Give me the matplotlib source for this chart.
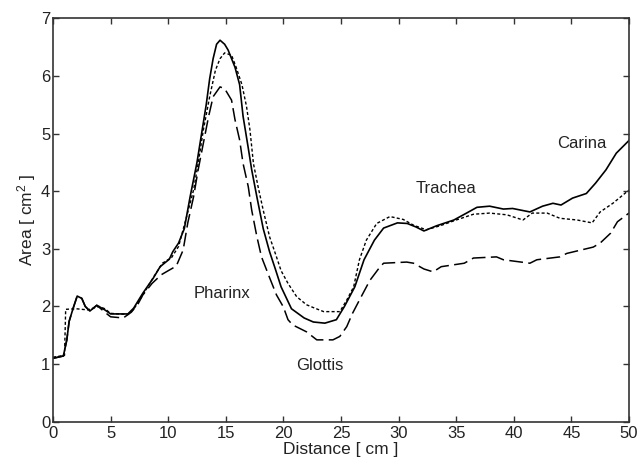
import matplotlib

matplotlib.use("Agg")
import matplotlib.pyplot as plt

# distancia a lo largo de la vía aérea (cm) y área (cm^2)
solid_x = [0, 0.9, 1.2, 1.4, 1.75, 2.1, 2.5, 2.8, 3.2, 3.8, 4.5, 5.0, 6.5, 7.0, 7.8, 8.7,
           9.3, 10.1, 10.4, 10.9, 11.4, 11.9, 12.5, 12.9, 13.3, 13.6, 13.9, 14.2, 14.5,
           14.9, 15.2, 15.8, 16.2, 16.5, 16.95, 17.25, 17.7, 18.25, 18.8, 19.3, 19.8,
           20.7, 21.8, 22.6, 23.6, 24.6, 25.3, 26.2, 27.0, 27.9, 28.7, 29.9, 30.75, 31.5,
           32.2, 33.3, 34.8, 35.9, 36.8, 37.9, 39.1, 39.9, 41.4, 42.5, 43.4, 44.1, 45.1,
           46.3, 47.1, 48.0, 48.9, 50.0]
solid_y = [1.1, 1.14, 1.42, 1.74, 1.97, 2.18, 2.14, 2.0, 1.92, 2.02, 1.94, 1.87, 1.87,
           1.97, 2.23, 2.49, 2.69, 2.82, 2.95, 3.1, 3.35, 3.9, 4.5, 5.0, 5.5, 5.95, 6.3,
           6.55, 6.62, 6.55, 6.45, 6.15, 5.85, 5.3, 4.75, 4.37, 3.9, 3.35, 2.95, 2.65,
           2.34, 1.96, 1.8, 1.73, 1.71, 1.77, 2.0, 2.34, 2.81, 3.15, 3.36, 3.45, 3.44,
           3.38, 3.31, 3.4, 3.5, 3.62, 3.72, 3.74, 3.69, 3.7, 3.64, 3.74, 3.79, 3.76,
           3.88, 3.96, 4.14, 4.37, 4.66, 4.88]

dotted_x = [0, 1.0, 1.1, 2.0, 3.0, 3.5, 4.0, 4.5, 5.0, 6.5, 7.0, 7.8, 8.7, 9.5, 10.3,
            10.9, 11.6, 12.2, 12.6, 13.05, 13.6, 14.1, 14.5, 14.9, 15.5, 15.9, 16.4, 16.8,
            17.1, 17.4, 17.8, 18.25, 18.8, 19.4, 19.8, 20.4, 21.15, 22.0, 22.6, 23.5,
            24.9, 25.5, 26.1, 26.6, 27.2, 28.1, 29.25, 30.4, 31.3, 32.4, 33.6, 35.0,
            36.5, 37.9, 39.4, 40.8, 41.6, 42.9, 44.0, 45.5, 46.8, 47.5, 48.6, 50.0]
dotted_y = [1.12, 1.15, 1.95, 1.96, 1.94, 1.97, 2.0, 1.96, 1.88, 1.86, 1.95, 2.2, 2.5,
            2.75, 2.85, 3.04, 3.56, 4.02, 4.48, 5.06, 5.64, 6.1, 6.3, 6.4, 6.36, 6.15,
            5.85, 5.47, 5.06, 4.48, 4.08, 3.67, 3.21, 2.86, 2.62, 2.4, 2.17, 2.03, 1.98,
            1.91, 1.91, 2.11, 2.34, 2.81, 3.15, 3.44, 3.56, 3.51, 3.41, 3.33, 3.4, 3.5,
            3.6, 3.62, 3.59, 3.5, 3.62, 3.62, 3.53, 3.5, 3.45, 3.64, 3.79, 4.02]

dashed_x = [0, 0.9, 1.2, 1.4, 1.75, 2.1, 2.5, 2.8, 3.2, 3.8, 4.5, 5.0, 6.1, 6.8, 7.4,
            7.8, 8.6, 9.4, 10.0, 10.7, 11.3, 11.7, 12.2, 12.6, 13.05, 13.5, 13.9, 14.5,
            14.9, 15.5, 15.8, 16.2, 16.5, 16.95, 17.25, 17.7, 18.1, 18.8, 19.4, 20.0,
            20.4, 20.8, 22.0, 22.9, 24.3, 24.9, 25.5, 26.0, 26.6, 27.5, 28.4, 28.7, 30.7,
            31.3, 32.2, 33.0, 33.7, 35.7, 36.5, 38.5, 39.1, 41.4, 42.0, 44.0, 44.6, 46.9,
            47.5, 48.4, 49.0, 50.0]
dashed_y = [1.1, 1.14, 1.42, 1.74, 1.97, 2.18, 2.14, 2.0, 1.92, 2.02, 1.9, 1.82, 1.8,
            1.9, 2.05, 2.2, 2.4, 2.55, 2.62, 2.7, 2.98, 3.45, 3.9, 4.37, 4.83, 5.29, 5.64,
            5.81, 5.78, 5.58, 5.24, 4.89, 4.48, 4.08, 3.67, 3.21, 2.86, 2.5, 2.2, 1.99,
            1.77, 1.68, 1.56, 1.42, 1.42, 1.48, 1.65, 1.88, 2.11, 2.45, 2.69, 2.75, 2.77,
            2.75, 2.65, 2.6, 2.69, 2.75, 2.84, 2.86, 2.81, 2.75, 2.81, 2.86, 2.92, 3.03,
            3.1, 3.27, 3.47, 3.62]

region_names = ["Pharinx", "Glottis", "Trachea", "Carina"]
region_x = [14.7, 23.2, 34.1, 45.9]
region_y = [2.23, 0.98, 4.05, 4.82]

x_ticks = [0, 5, 10, 15, 20, 25, 30, 35, 40, 45, 50]
y_ticks = [0, 1, 2, 3, 4, 5, 6, 7]

tick_font = ["Liberation Sans Narrow", "Liberation Sans", "DejaVu Sans"]
text_font = ["Liberation Sans", "DejaVu Sans"]

plt.rcParams["mathtext.fontset"] = "custom"
plt.rcParams["mathtext.rm"] = "Liberation Sans"
plt.rcParams["mathtext.it"] = "Liberation Sans"

fig = plt.figure(figsize=(6.37, 4.71), dpi=100)
ax = fig.add_axes([0.0832, 0.1047, 0.9042, 0.8564])

ax.plot(solid_x, solid_y, color="black", linewidth=1.2, linestyle="-")
ax.plot(dotted_x, dotted_y, color="black", linewidth=1.0, linestyle=(0, (2.2, 1.6)))
ax.plot(dashed_x, dashed_y, color="black", linewidth=1.1, linestyle=(0, (9, 3.5)))

for name, tx, ty in zip(region_names, region_x, region_y):
    ax.text(tx, ty, name, ha="center", va="center", fontsize=12,
            family=text_font, color="#222222")

ax.set_xlim(0, 50)
ax.set_ylim(0, 7)
ax.set_xticks(x_ticks)
ax.set_yticks(y_ticks)
ax.tick_params(direction="in", top=True, right=True, length=4.5, width=1.0,
               labelsize=12, pad=3, colors="#333333", labelcolor="#222222")
ax.tick_params(axis="y", pad=2)
for lab in ax.get_xticklabels() + ax.get_yticklabels():
    lab.set_family(tick_font)
for sp in ax.spines.values():
    sp.set_linewidth(1.2)
    sp.set_color("#333333")

ax.set_xlabel("Distance [ cm ]", fontsize=12.5, family=tick_font, labelpad=1,
              color="#222222")
ax.set_ylabel(r"Area [ cm$^2$ ]", fontsize=12.5, family=tick_font, labelpad=2,
              color="#222222")

fig.savefig("out.png", dpi=100)
